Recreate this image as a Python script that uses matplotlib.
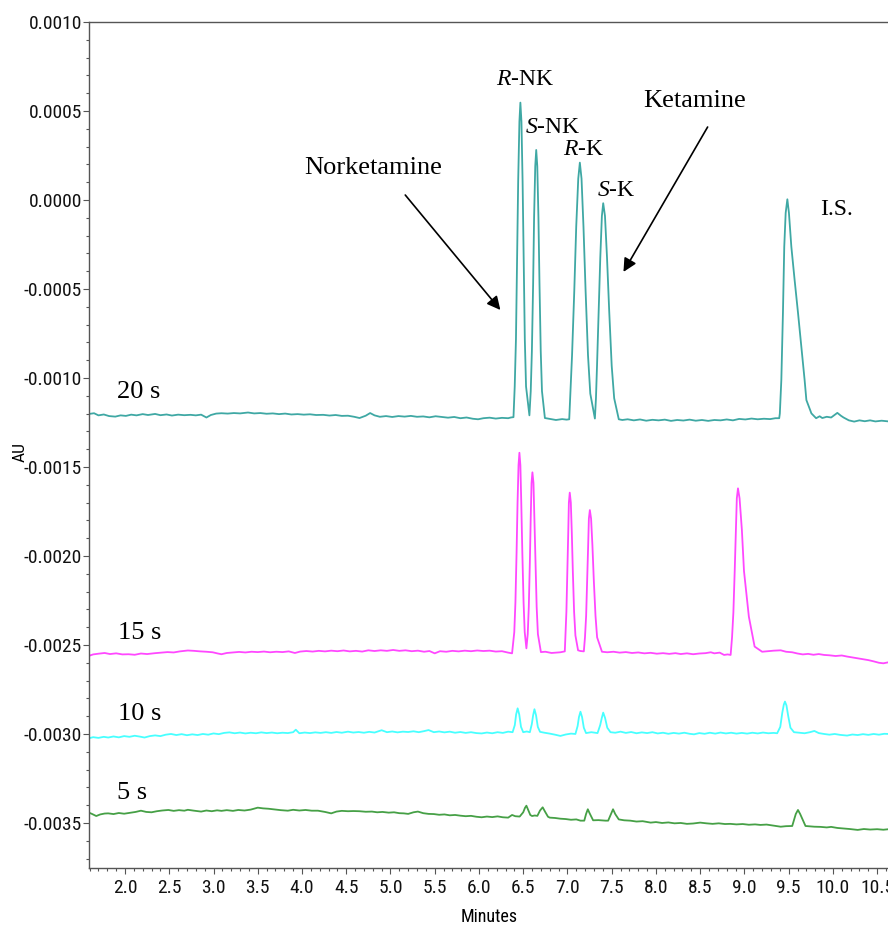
import numpy as np
import matplotlib
matplotlib.use("Agg")
import matplotlib.pyplot as plt
from matplotlib import font_manager
from matplotlib.ticker import FixedLocator, MultipleLocator, FuncFormatter

plt.rcParams['axes.unicode_minus'] = False
plt.rcParams['mathtext.fontset'] = 'custom'
plt.rcParams['mathtext.it'] = 'Liberation Serif:italic'
plt.rcParams['mathtext.rm'] = 'Liberation Serif'

# ---------------- data (time in minutes, absorbance in mAU) ----------------
trace_labels = ["20 s", "15 s", "10 s", "5 s"]
trace_colors = ["#3fa8a4", "#ff48ff", "#48ffff", "#46a046"]

t_20s = [1.593, 1.65, 1.70, 1.76, 1.82, 1.89, 1.95, 2.01, 2.07, 2.13, 2.20, 2.26, 2.34, 2.40, 2.47, 2.53, 2.60, 2.67,
         2.74, 2.80, 2.86, 2.92, 2.97, 3.03, 3.09, 3.16, 3.23, 3.30, 3.39, 3.46, 3.53, 3.60, 3.67, 3.74, 3.81, 3.88,
         3.95, 4.02, 4.09, 4.16, 4.24, 4.31, 4.38, 4.45, 4.52, 4.59, 4.65, 4.72, 4.77, 4.82, 4.88, 4.95, 5.02, 5.09,
         5.16, 5.23, 5.30, 5.37, 5.44, 5.51, 5.58, 5.65, 5.72, 5.79, 5.86, 5.93, 5.99, 6.05, 6.12, 6.19, 6.26, 6.33,
         6.36,
         6.39, 6.404, 6.418, 6.431, 6.443, 6.457, 6.468, 6.480, 6.493, 6.505, 6.518, 6.532, 6.57,
         6.585, 6.598, 6.612, 6.623, 6.636, 6.647, 6.659, 6.672, 6.684, 6.698, 6.712, 6.745, 6.80, 6.87, 6.94, 6.99,
         7.02, 7.033, 7.052, 7.077, 7.099, 7.122, 7.14, 7.159, 7.181, 7.205, 7.232, 7.258, 7.31,
         7.322, 7.334, 7.352, 7.371, 7.389, 7.404, 7.424, 7.447, 7.472, 7.500, 7.528, 7.58, 7.62,
         7.68, 7.75, 7.82, 7.89, 7.96, 8.03, 8.10, 8.17, 8.24, 8.31, 8.38, 8.45, 8.52, 8.59, 8.66, 8.73, 8.80, 8.87,
         8.94, 9.01, 9.08, 9.15, 9.22, 9.29, 9.35, 9.393,
         9.40, 9.417, 9.435, 9.45, 9.466, 9.485, 9.503, 9.53, 9.567, 9.606, 9.643, 9.68, 9.70, 9.757, 9.81,
         9.85, 9.88, 9.93, 9.98, 10.05, 10.09, 10.12, 10.18, 10.24, 10.30, 10.36, 10.42, 10.48, 10.55, 10.63]
a_20s = [-1.202, -1.198, -1.210, -1.205, -1.214, -1.217, -1.210, -1.213, -1.206, -1.210, -1.203, -1.208, -1.202,
         -1.209, -1.205, -1.211, -1.206, -1.209, -1.207, -1.210, -1.206, -1.222, -1.208, -1.200, -1.198, -1.200,
         -1.197, -1.199, -1.194, -1.199, -1.197, -1.201, -1.199, -1.203, -1.200, -1.205, -1.203, -1.206, -1.204,
         -1.208, -1.207, -1.211, -1.208, -1.213, -1.212, -1.218, -1.225, -1.212, -1.197, -1.210, -1.218, -1.214,
         -1.219, -1.214, -1.217, -1.213, -1.218, -1.216, -1.221, -1.215, -1.219, -1.223, -1.219, -1.226, -1.222,
         -1.229, -1.232, -1.226, -1.223, -1.228, -1.224, -1.226, -1.222,
         -1.220, -1.048, -0.782, -0.339, 0.104, 0.440, 0.547, 0.440, 0.104, -0.339, -0.782, -1.048, -1.210,
         -1.074, -0.849, -0.472, -0.096, 0.190, 0.281, 0.190, -0.096, -0.472, -0.849, -1.074, -1.225, -1.230, -1.236,
         -1.231, -1.234,
         -1.232, -1.088, -0.871, -0.511, -0.150, 0.120, 0.210, 0.120, -0.150, -0.511, -0.871, -1.088, -1.228,
         -1.114, -0.932, -0.627, -0.323, -0.090, -0.018, -0.090, -0.323, -0.627, -0.932, -1.114, -1.232, -1.236,
         -1.232, -1.238, -1.233, -1.240, -1.235, -1.238, -1.234, -1.241, -1.236, -1.239, -1.234, -1.240, -1.236,
         -1.241, -1.236, -1.238, -1.233, -1.238, -1.230, -1.233, -1.228, -1.232, -1.229, -1.231, -1.226, -1.226,
         -1.200, -1.011, -0.637, -0.262, -0.073, 0.004, -0.073, -0.262, -0.449, -0.637, -0.824, -1.011, -1.124,
         -1.199, -1.226,
         -1.215, -1.225, -1.218, -1.222, -1.196, -1.212, -1.222, -1.238, -1.245, -1.238, -1.243, -1.238, -1.244,
         -1.240, -1.244]

t_15s = [1.593, 1.64, 1.70, 1.77, 1.83, 1.90, 1.97, 2.04, 2.11, 2.18, 2.25, 2.34, 2.41, 2.48, 2.55, 2.62, 2.71, 2.78,
         2.85, 2.92, 2.99, 3.05, 3.09, 3.15, 3.22, 3.29, 3.36, 3.43, 3.50, 3.57, 3.64, 3.71, 3.78, 3.85, 3.92, 3.98,
         4.05, 4.12, 4.19, 4.26, 4.33, 4.40, 4.47, 4.54, 4.61, 4.68, 4.75, 4.82, 4.89, 4.96, 5.03, 5.10, 5.17, 5.24,
         5.31, 5.38, 5.44, 5.50, 5.56, 5.63, 5.70, 5.77, 5.84, 5.91, 5.98, 6.05, 6.12, 6.19, 6.26, 6.33, 6.374,
         6.399, 6.412, 6.425, 6.436, 6.447, 6.457, 6.468, 6.478, 6.49, 6.504, 6.517, 6.536,
         6.551, 6.563, 6.575, 6.585, 6.594, 6.604, 6.616, 6.626, 6.638, 6.652, 6.666, 6.70, 6.75, 6.82, 6.92, 6.97,
         6.977, 6.988, 6.999, 7.009, 7.016, 7.026, 7.038, 7.049, 7.061, 7.075, 7.09, 7.12, 7.147, 7.185,
         7.198, 7.211, 7.223, 7.234, 7.242, 7.253, 7.267, 7.282, 7.298, 7.317, 7.335, 7.39,
         7.45, 7.52, 7.59, 7.66, 7.73, 7.80, 7.87, 7.94, 8.01, 8.08, 8.15, 8.22, 8.28, 8.35, 8.42, 8.49, 8.56,
         8.62, 8.66, 8.72, 8.77, 8.81, 8.844,
         8.86, 8.875, 8.89, 8.903, 8.914, 8.927, 8.945, 8.971, 8.995, 9.05, 9.115, 9.20,
         9.26, 9.33, 9.41, 9.47, 9.54, 9.60, 9.66, 9.72, 9.78, 9.84, 9.90, 9.96, 10.03, 10.10, 10.16, 10.22,
         10.28, 10.34, 10.40, 10.46, 10.52, 10.57, 10.63]
a_15s = [-2.561, -2.553, -2.549, -2.545, -2.551, -2.547, -2.553, -2.552, -2.555, -2.548, -2.551, -2.546, -2.543,
         -2.540, -2.542, -2.536, -2.531, -2.533, -2.536, -2.538, -2.541, -2.548, -2.552, -2.545, -2.542, -2.539,
         -2.542, -2.538, -2.540, -2.537, -2.541, -2.538, -2.540, -2.536, -2.545, -2.537, -2.534, -2.537, -2.533,
         -2.536, -2.532, -2.535, -2.531, -2.536, -2.533, -2.537, -2.530, -2.534, -2.530, -2.533, -2.528, -2.533,
         -2.530, -2.535, -2.532, -2.538, -2.534, -2.547, -2.535, -2.538, -2.533, -2.536, -2.532, -2.535, -2.531,
         -2.534, -2.532, -2.537, -2.535, -2.543, -2.547,
         -2.428, -2.260, -1.980, -1.700, -1.490, -1.420, -1.490, -1.700, -1.980, -2.260, -2.428, -2.519,
         -2.439, -2.287, -2.035, -1.782, -1.590, -1.530, -1.590, -1.782, -2.035, -2.287, -2.439, -2.540, -2.538,
         -2.545, -2.541, -2.536,
         -2.447, -2.313, -2.090, -1.867, -1.700, -1.644, -1.700, -1.867, -2.090, -2.313, -2.447, -2.530, -2.534,
         -2.536,
         -2.457, -2.337, -2.139, -1.940, -1.790, -1.742, -1.790, -1.940, -2.139, -2.337, -2.457, -2.538,
         -2.541, -2.538, -2.543, -2.540, -2.545, -2.542, -2.547, -2.544, -2.549, -2.546, -2.550, -2.546, -2.551,
         -2.547, -2.552, -2.548, -2.546, -2.541, -2.547, -2.543, -2.556, -2.553, -2.556,
         -2.457, -2.318, -2.085, -1.853, -1.676, -1.620, -1.676, -1.853, -2.085, -2.341, -2.509, -2.538,
         -2.535, -2.532, -2.530, -2.538, -2.541, -2.548, -2.553, -2.550, -2.555, -2.551, -2.556, -2.558, -2.562,
         -2.559, -2.565, -2.570, -2.575, -2.580, -2.585, -2.592, -2.600, -2.603, -2.597]

t_10s = [1.593, 1.64, 1.70, 1.76, 1.81, 1.87, 1.93, 1.99, 2.05, 2.11, 2.17, 2.22, 2.28, 2.34, 2.40, 2.46, 2.52, 2.58,
         2.64, 2.70, 2.76, 2.82, 2.88, 2.94, 3.00, 3.06, 3.12, 3.18, 3.24, 3.30, 3.36, 3.42, 3.48, 3.54, 3.60, 3.66,
         3.72, 3.78, 3.84, 3.90, 3.93, 3.97, 4.03, 4.09, 4.15, 4.21, 4.27, 4.33, 4.39, 4.45, 4.52, 4.58, 4.64, 4.70,
         4.76, 4.82, 4.90, 4.96, 5.02, 5.08, 5.14, 5.20, 5.26, 5.32, 5.38, 5.43, 5.49, 5.55, 5.61, 5.67, 5.73, 5.79,
         5.85, 5.91, 5.97, 6.03, 6.09, 6.15, 6.21, 6.27, 6.33, 6.38,
         6.405, 6.42, 6.437, 6.455, 6.475, 6.50, 6.54, 6.575,
         6.597, 6.612, 6.627, 6.645, 6.665, 6.69, 6.74, 6.80, 6.86, 6.92, 6.98, 7.04, 7.09,
         7.115, 7.13, 7.147, 7.165, 7.185, 7.21, 7.27, 7.34,
         7.37, 7.388, 7.404, 7.425, 7.45, 7.486,
         7.54, 7.60, 7.66, 7.72, 7.78, 7.84, 7.90, 7.96, 8.02, 8.08, 8.14, 8.20, 8.26, 8.32, 8.38, 8.43, 8.49, 8.55,
         8.61, 8.67, 8.73, 8.79, 8.85, 8.91, 8.97, 9.03, 9.09, 9.15, 9.21, 9.27, 9.33, 9.37,
         9.405, 9.428, 9.445, 9.458, 9.475, 9.495, 9.52, 9.56,
         9.62, 9.68, 9.74, 9.79, 9.84, 9.90, 9.96, 10.02, 10.08, 10.16, 10.22, 10.28, 10.34, 10.40, 10.46, 10.52,
         10.58, 10.63]
a_10s = [-3.024, -3.018, -3.022, -3.016, -3.020, -3.014, -3.019, -3.012, -3.016, -3.010, -3.015, -3.020, -3.012,
         -3.008, -3.012, -3.004, -3.000, -3.006, -3.001, -3.007, -3.002, -3.006, -3.000, -3.004, -2.997, -3.001,
         -2.994, -2.991, -2.996, -2.992, -2.997, -2.993, -2.996, -2.991, -2.995, -2.992, -2.996, -2.993, -2.995,
         -2.990, -2.976, -2.996, -2.992, -2.995, -2.991, -2.994, -2.990, -2.994, -2.989, -2.993, -2.987, -2.992,
         -2.989, -2.993, -2.988, -2.992, -2.979, -2.990, -2.986, -2.991, -2.987, -2.989, -2.985, -2.990, -2.984,
         -2.978, -2.990, -2.986, -2.991, -2.987, -2.993, -2.989, -2.994, -2.990, -2.995, -2.997, -2.992, -2.996,
         -2.990, -2.994, -2.987, -2.990,
         -2.950, -2.890, -2.856, -2.890, -2.960, -2.990, -2.986, -2.990,
         -2.945, -2.895, -2.861, -2.895, -2.960, -2.988, -2.993, -2.998, -3.004, -3.011, -3.003, -2.998, -3.000,
         -2.955, -2.905, -2.875, -2.905, -2.965, -2.995, -2.990, -2.995,
         -2.950, -2.910, -2.880, -2.910, -2.965, -2.990,
         -2.993, -2.987, -2.994, -2.989, -2.996, -2.991, -2.995, -2.990, -2.997, -2.993, -2.999, -2.994, -2.998,
         -2.993, -2.999, -3.002, -2.995, -2.999, -2.993, -2.998, -2.992, -2.997, -2.993, -2.998, -2.994, -2.998,
         -2.993, -2.997, -2.992, -2.996, -2.994, -2.996,
         -2.960, -2.880, -2.835, -2.818, -2.840, -2.900, -2.965, -2.990,
         -2.993, -2.996, -2.990, -2.983, -2.995, -3.000, -3.004, -3.000, -3.005, -3.009, -3.003, -3.006, -3.001,
         -3.005, -3.000, -3.004, -2.999, -3.000]

t_5s = [1.593, 1.63, 1.675, 1.72, 1.77, 1.81, 1.87, 1.93, 1.99, 2.07, 2.12, 2.18, 2.24, 2.30, 2.36, 2.42, 2.49, 2.55,
        2.61, 2.67, 2.71, 2.78, 2.86, 2.92, 2.98, 3.04, 3.09, 3.15, 3.22, 3.28, 3.35, 3.42, 3.50, 3.56, 3.62, 3.69,
        3.76, 3.84, 3.90, 3.97, 4.04, 4.11, 4.18, 4.26, 4.33, 4.39, 4.45, 4.52, 4.58, 4.65, 4.72, 4.79, 4.85, 4.91,
        4.98, 5.04, 5.10, 5.15, 5.20, 5.26, 5.31, 5.37, 5.43, 5.49, 5.55, 5.61, 5.67, 5.73, 5.79, 5.85, 5.91, 5.97,
        6.03, 6.09, 6.15, 6.21, 6.27, 6.33, 6.374, 6.41, 6.46,
        6.50, 6.52, 6.536, 6.555, 6.58, 6.60, 6.63, 6.66, 6.69, 6.72, 6.745, 6.78, 6.80,
        6.86, 6.92, 6.98, 7.04, 7.10, 7.147, 7.19, 7.21, 7.23, 7.25, 7.29, 7.35, 7.43, 7.46, 7.50, 7.515, 7.54, 7.58,
        7.64, 7.71, 7.78, 7.85, 7.94, 8.00, 8.07, 8.14, 8.21, 8.28, 8.35, 8.42, 8.50, 8.57, 8.64, 8.71, 8.78, 8.84,
        8.91, 8.98, 9.05, 9.12, 9.18, 9.25, 9.32, 9.41, 9.47, 9.54, 9.58, 9.605, 9.63, 9.69,
        9.74, 9.79, 9.86, 9.93, 9.98, 10.05, 10.12, 10.19, 10.28, 10.35, 10.42, 10.50, 10.57, 10.63]
a_5s = [-3.442, -3.450, -3.461, -3.452, -3.447, -3.446, -3.450, -3.444, -3.448, -3.442, -3.438, -3.431, -3.438,
        -3.440, -3.434, -3.430, -3.427, -3.432, -3.428, -3.431, -3.426, -3.431, -3.436, -3.430, -3.434, -3.429,
        -3.432, -3.428, -3.432, -3.427, -3.430, -3.425, -3.414, -3.418, -3.420, -3.424, -3.428, -3.431, -3.426,
        -3.430, -3.427, -3.431, -3.431, -3.438, -3.446, -3.436, -3.432, -3.434, -3.433, -3.434, -3.437, -3.436,
        -3.440, -3.438, -3.442, -3.440, -3.445, -3.446, -3.449, -3.440, -3.436, -3.445, -3.449, -3.450, -3.454,
        -3.452, -3.457, -3.455, -3.459, -3.462, -3.460, -3.465, -3.468, -3.464, -3.467, -3.463, -3.468, -3.470,
        -3.455, -3.462, -3.464,
        -3.440, -3.415, -3.403, -3.425, -3.455, -3.461, -3.458, -3.460, -3.430, -3.412, -3.435, -3.465, -3.470,
        -3.472, -3.476, -3.478, -3.482, -3.480, -3.487, -3.487, -3.450, -3.423, -3.445, -3.485, -3.484, -3.487,
        -3.487, -3.440, -3.423, -3.450, -3.480,
        -3.485, -3.487, -3.492, -3.490, -3.498, -3.495, -3.500, -3.497, -3.502, -3.500, -3.505, -3.503, -3.498,
        -3.502, -3.505, -3.502, -3.506, -3.505, -3.508, -3.506, -3.510, -3.508, -3.511, -3.509, -3.514, -3.521,
        -3.518, -3.517, -3.450, -3.427, -3.450, -3.517,
        -3.519, -3.521, -3.522, -3.525, -3.522, -3.528, -3.531, -3.534, -3.539, -3.534, -3.537, -3.535, -3.538,
        -3.535]

traces_t = [t_20s, t_15s, t_10s, t_5s]
traces_mAU = [a_20s, a_15s, a_10s, a_5s]

y_ticks = [0.0010, 0.0005, 0.0000, -0.0005, -0.0010, -0.0015, -0.0020, -0.0025, -0.0030, -0.0035]
x_ticks = [2.0, 2.5, 3.0, 3.5, 4.0, 4.5, 5.0, 5.5, 6.0, 6.5, 7.0, 7.5, 8.0, 8.5, 9.0, 9.5, 10.0, 10.5]

# label positions (minutes, AU)
trace_label_pos = [(2.15, -0.00108), (2.17, -0.00243), (2.17, -0.00289), (2.08, -0.00333)]
peak_labels = [r"$R$-NK", r"$S$-NK", r"$R$-K", r"$S$-K", "I.S."]
peak_label_pos = [(6.525, 0.000675), (6.83, 0.000410), (7.18, 0.000282), (7.555, 0.000056), (10.045, -0.000056)]

# ---------------- pick a condensed sans font if one is installed ----------------
_fonts = font_manager.fontManager.ttflist
if any(f.name == 'Liberation Sans Narrow' for f in _fonts):
    tick_family, tick_stretch, tick_size = 'Liberation Sans Narrow', 'normal', 14
elif any(f.name == 'Roboto Condensed' for f in _fonts):
    tick_family, tick_stretch, tick_size = 'Roboto Condensed', 'normal', 14
elif any(f.name == 'DejaVu Sans' and str(f.stretch) in ('condensed', 'semi-condensed') for f in _fonts):
    tick_family, tick_stretch, tick_size = 'DejaVu Sans', 'condensed', 12.5
else:
    tick_family, tick_stretch, tick_size = 'Liberation Sans', 'normal', 12

# ---------------- figure ----------------
W, H = 888, 927
fig = plt.figure(figsize=(W / 100, H / 100), dpi=100)
ax = fig.add_axes([89 / W, 1 - 868 / H, (890 - 89) / W, (868 - 22) / H])

for t, a, c in zip(traces_t, traces_mAU, trace_colors):
    ax.plot(t, np.asarray(a) * 1e-3, color=c, lw=1.3, solid_joinstyle='round')

ax.set_xlim(1.593, 10.645)
ax.set_ylim(-0.003753, 0.0010)

ax.yaxis.set_major_locator(FixedLocator(y_ticks))
ax.yaxis.set_major_formatter(FuncFormatter(lambda v, p: "%.4f" % v))
ax.yaxis.set_minor_locator(MultipleLocator(0.0001))
ax.xaxis.set_major_locator(FixedLocator(x_ticks))
ax.xaxis.set_major_formatter(FuncFormatter(lambda v, p: "%.1f" % v))
ax.xaxis.set_minor_locator(MultipleLocator(0.1))

ax.tick_params(axis='both', which='major', direction='out', length=4, width=0.8, color='#555555',
               labelsize=tick_size, labelcolor='#111111')
ax.tick_params(axis='both', which='minor', direction='out', length=2.5, width=0.8, color='#555555')
ax.tick_params(axis='y', which='major', pad=1)
ax.tick_params(axis='x', which='major', pad=4)
for lab in ax.get_xticklabels() + ax.get_yticklabels():
    lab.set_family(tick_family)
    lab.set_stretch(tick_stretch)

for s in ['left', 'top', 'bottom']:
    ax.spines[s].set_color('#555555')
    ax.spines[s].set_linewidth(1.0)
ax.spines['right'].set_visible(False)

ax.set_xlabel("Minutes", family=tick_family, stretch=tick_stretch, fontsize=tick_size - 1, labelpad=8)
fig.text(20 / W, 1 - 452 / H, "AU", rotation=90, family=tick_family, stretch=tick_stretch,
         fontsize=tick_size - 1.5, ha='center', va='center')

serif = ['Liberation Serif', 'DejaVu Serif']
for lab, (x, y) in zip(trace_labels, trace_label_pos):
    ax.text(x, y, lab, family=serif, fontsize=19, ha='center', va='center')
for lab, (x, y) in zip(peak_labels, peak_label_pos):
    ax.text(x, y, lab, family=serif, fontsize=17, ha='center', va='center')

ax.text(4.805, 0.000180, "Norketamine", family=serif, fontsize=19, ha='center', va='center')
ax.text(8.437, 0.000556, "Ketamine", family=serif, fontsize=19, ha='center', va='center')
arrow = dict(arrowstyle='-|>', color='black', lw=1.2, mutation_scale=20, shrinkA=0, shrinkB=0)
ax.annotate("", xy=(6.242, -0.000618), xytext=(5.167, 0.000028), arrowprops=arrow)
ax.annotate("", xy=(7.633, -0.000404), xytext=(8.584, 0.000410), arrowprops=arrow)

fig.savefig("out.png", dpi=100)
